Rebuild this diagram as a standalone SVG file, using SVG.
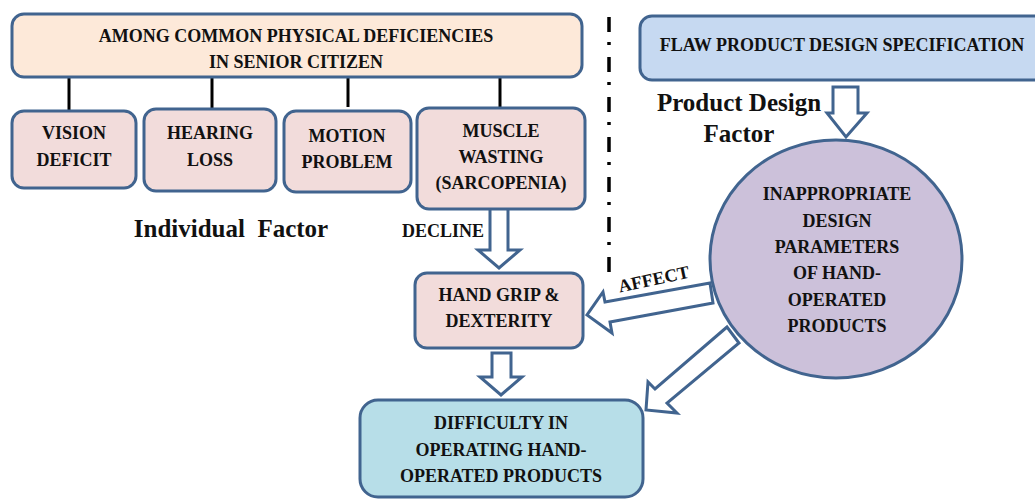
<svg xmlns="http://www.w3.org/2000/svg" width="1035" height="499" viewBox="0 0 1035 499">
<style>
.box{stroke:#41648F;stroke-width:3}
.t{font-family:"Liberation Serif","Times New Roman",serif;font-weight:bold;font-size:18px;fill:#111;text-anchor:middle}
.big{font-size:25px}
.arr{fill:#fff;stroke:#41648F;stroke-width:3;stroke-linejoin:miter}
.ln{stroke:#000;stroke-width:3;fill:none}
</style>
<rect width="1035" height="499" fill="#fff"/>
<g id="connectors">
<line class="ln" x1="69" y1="77" x2="69" y2="111"/>
<line class="ln" x1="212" y1="77" x2="212" y2="109"/>
<line class="ln" x1="348" y1="77" x2="348" y2="107"/>
<line class="ln" x1="500" y1="77" x2="500" y2="108"/>
<line x1="609" y1="17" x2="609" y2="278" stroke="#000" stroke-width="3.5" stroke-dasharray="15 10 3 12"/>
<polygon class="arr" points="490,206 508,206 508,250 520,250 499,268 478,250 490,250"/>
<polygon class="arr" points="492,353 511,353 511,377 522,377 501,395 480,377 492,377"/>
<polygon class="arr" points="833,87 858,87 858,113 867,113 846,137 827,113 833,113"/>
<polygon class="arr" points="710,283 605,302 603,292 587,315 612,333 610,322 713,303"/>
<polygon class="arr" points="727,327 655,389 648,382 646,410 677,413 667,403 739,343"/>
<text class="t" transform="rotate(-12 655 285)" x="655" y="285" font-size="17">AFFECT</text>
<text class="t" x="443" y="237">DECLINE</text>
</g>
<g id="title">
<rect class="box" x="12" y="14" width="570" height="63" rx="12" fill="#FDE9D9"/>
<text class="t" x="296" y="42">AMONG COMMON PHYSICAL DEFICIENCIES</text>
<text class="t" x="296" y="68">IN SENIOR CITIZEN</text>
</g>
<g id="vision">
<rect class="box" x="12" y="111" width="124" height="77" rx="12" fill="#F2DCDB"/>
<text class="t" x="74" y="139">VISION</text>
<text class="t" x="74" y="166">DEFICIT</text>
</g>
<g id="hearing">
<rect class="box" x="144" y="109" width="132" height="82" rx="12" fill="#F2DCDB"/>
<text class="t" x="210" y="139">HEARING</text>
<text class="t" x="210" y="166">LOSS</text>
</g>
<g id="motion">
<rect class="box" x="284" y="111" width="127" height="81" rx="12" fill="#F2DCDB"/>
<text class="t" x="347" y="142">MOTION</text>
<text class="t" x="347" y="168">PROBLEM</text>
</g>
<g id="muscle">
<rect class="box" x="417" y="108" width="168" height="101" rx="12" fill="#F2DCDB"/>
<text class="t" x="501" y="137">MUSCLE</text>
<text class="t" x="501" y="163">WASTING</text>
<text class="t" x="501" y="189">(SARCOPENIA)</text>
</g>
<g id="individual-label">
<text class="t big" x="231" y="237" xml:space="preserve">Individual  Factor</text>
</g>
<g id="handgrip">
<rect class="box" x="415" y="273" width="168" height="75" rx="12" fill="#F2DCDB"/>
<text class="t" x="499" y="301">HAND GRIP &amp;</text>
<text class="t" x="499" y="327">DEXTERITY</text>
</g>
<g id="difficulty">
<rect class="box" x="360" y="400" width="283" height="97" rx="18" fill="#B7DEE8"/>
<text class="t" x="501" y="429">DIFFICULTY IN</text>
<text class="t" x="501" y="456">OPERATING HAND-</text>
<text class="t" x="501" y="482">OPERATED PRODUCTS</text>
</g>
<g id="flaw">
<rect class="box" x="640" y="16" width="420" height="64" rx="12" fill="#C6D9F1"/>
<text class="t" x="842" y="51">FLAW PRODUCT DESIGN SPECIFICATION</text>
</g>
<g id="product-label">
<text class="t big" x="739" y="111">Product Design</text>
<text class="t big" x="739" y="142">Factor</text>
</g>
<g id="parameters">
<ellipse class="box" cx="836" cy="259" rx="126" ry="119" fill="#CCC1DA"/>
<text class="t" x="837" y="200">INAPPROPRIATE</text>
<text class="t" x="837" y="227">DESIGN</text>
<text class="t" x="837" y="253">PARAMETERS</text>
<text class="t" x="837" y="279">OF HAND-</text>
<text class="t" x="837" y="306">OPERATED</text>
<text class="t" x="837" y="332">PRODUCTS</text>
</g>
</svg>
